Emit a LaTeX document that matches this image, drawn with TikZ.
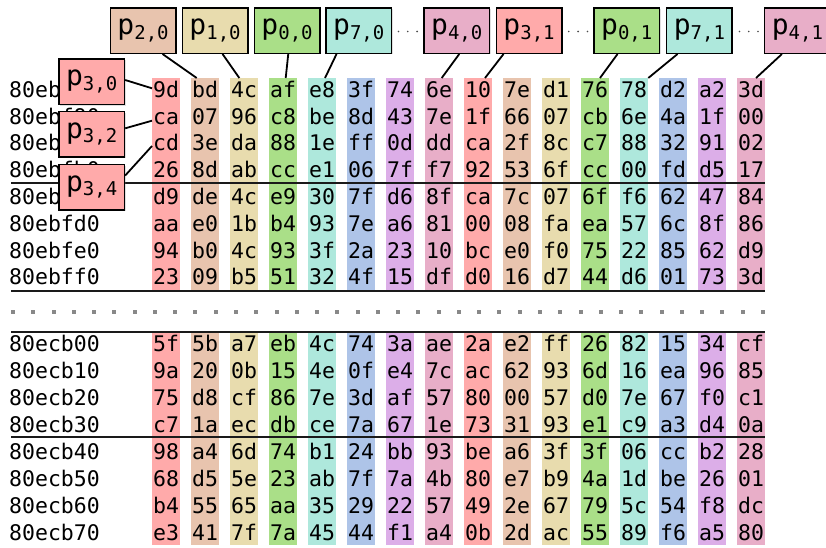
\documentclass[tikz,border=0pt]{standalone}
\usepackage{fontspec}
\setmonofont{DejaVu Sans Mono}
\usetikzlibrary{calc,shadows}
\definecolor{col0}{HTML}{FFAAAA}
\definecolor{col1}{HTML}{E8C4AE}
\definecolor{col2}{HTML}{E8DCAE}
\definecolor{col3}{HTML}{AADF88}
\definecolor{col4}{HTML}{AEE8DC}
\definecolor{col5}{HTML}{AEC4E8}
\definecolor{col6}{HTML}{DCAEE8}
\definecolor{col7}{HTML}{E8AEC8}
\definecolor{rulecol}{HTML}{1A1A1A}
\definecolor{dotcol}{HTML}{888888}
\newcommand{\plab}[2]{{\fontsize{28}{28}\selectfont p}\raisebox{-4.5pt}{\fontsize{19}{19}\selectfont #1,#2}}
\tikzset{
  hex/.style={font=\ttfamily\fontsize{21.5}{21.5}\selectfont, anchor=base, inner sep=0pt},
  addr/.style={font=\ttfamily\fontsize{21.5}{21.5}\selectfont, anchor=base west, inner sep=0pt},
  pbox/.style={draw=black, line width=1.5pt, minimum width=65.5pt, minimum height=45.5pt,
    inner sep=0pt, font=\ttfamily, fill=#1,
    drop shadow={shadow xshift=1.2pt, shadow yshift=-1.2pt, opacity=0.25}},
  conn/.style={draw=black, line width=1.8pt},
  hrule/.style={draw=rulecol, line width=2pt},
}
\begin{document}
\begin{tikzpicture}[x=1pt,y=-1pt]
\useasboundingbox (0,0) rectangle (826,547);
\fill[white] (0,0) rectangle (826,547);
% column backgrounds
\foreach \i in {0,...,15} {
  \pgfmathtruncatemacro\c{mod(\i,8)}
  \fill[col\c] ({152+39*\i},78) rectangle +(28,213);
  \fill[col\c] ({152+39*\i},332.7) rectangle +(28,212.3);
  \coordinate (ct\i) at ({152+39*\i},78);
}
\coordinate (cl0) at (152,88.3);
\coordinate (cl1) at (152,120.7);
\coordinate (cl2) at (152,146);
% addresses
\foreach \a [count=\r from 0] in {80ebf80,80ebf90,80ebfa0,80ebfb0,80ebfc0,80ebfd0,80ebfe0,80ebff0} {
  \node[addr] (at\r) at (9,{90+26.8*\r+7.2}) {\a};
}
\foreach \a [count=\r from 0] in {80ecb00,80ecb10,80ecb20,80ecb30,80ecb40,80ecb50,80ecb60,80ecb70} {
  \node[addr] (ab\r) at (9,{344+27*\r+7.2}) {\a};
}
% top block bytes
\foreach \row [count=\r from 0] in {
  {9d,bd,4c,af,e8,3f,74,6e,10,7e,d1,76,78,d2,a2,3d},
  {ca,07,96,c8,be,8d,43,7e,1f,66,07,cb,6e,4a,1f,00},
  {cd,3e,da,88,1e,ff,0d,dd,ca,2f,8c,c7,88,32,91,02},
  {26,8d,ab,cc,e1,06,7f,f7,92,53,6f,cc,00,fd,d5,17},
  {d9,de,4c,e9,30,7f,d6,8f,ca,7c,07,6f,f6,62,47,84},
  {aa,e0,1b,b4,93,7e,a6,81,00,08,fa,ea,57,6c,8f,86},
  {94,b0,4c,93,3f,2a,23,10,bc,e0,f0,75,22,85,62,d9},
  {23,09,b5,51,32,4f,15,df,d0,16,d7,44,d6,01,73,3d}} {
  \foreach \b [count=\i from 0] in \row {
    \node[hex] (t\r-\i) at ({166+39*\i},{90+26.8*\r+7.2}) {\b};
  }
}
% bottom block bytes
\foreach \row [count=\r from 0] in {
  {5f,5b,a7,eb,4c,74,3a,ae,2a,e2,ff,26,82,15,34,cf},
  {9a,20,0b,15,4e,0f,e4,7c,ac,62,93,6d,16,ea,96,85},
  {75,d8,cf,86,7e,3d,af,57,80,00,57,d0,7e,67,f0,c1},
  {c7,1a,ec,db,ce,7a,67,1e,73,31,93,e1,c9,a3,d4,0a},
  {98,a4,6d,74,b1,24,bb,93,be,a6,3f,3f,06,cc,b2,28},
  {68,d5,5e,23,ab,7f,7a,4b,80,e7,b9,4a,1d,be,26,01},
  {b4,55,65,aa,35,29,22,57,49,2e,67,79,5c,54,f8,dc},
  {e3,41,7f,7a,45,44,f1,a4,0b,2d,ac,55,89,f6,a5,80}} {
  \foreach \b [count=\i from 0] in \row {
    \node[hex] (b\r-\i) at ({166+39*\i},{344+27*\r+7.2}) {\b};
  }
}
% rules
\draw[hrule] (11,182.7) -- (765,182.7);
\draw[hrule] (11,291) -- (765,291);
\draw[hrule] (11,331.7) -- (765,331.7);
\draw[hrule] (11,437.3) -- (765,437.3);
% dotted separator
\foreach \k in {0,...,37} {
  \fill[dotcol] ({11+20.27*\k},309.7) rectangle +(4,4);
}
% label boxes (top)
\node[pbox=col1] (p20) at (143.05,30.5) {\plab{2}{0}};
\node[pbox=col2] (p10) at (215.05,30.5) {\plab{1}{0}};
\node[pbox=col3] (p00) at (287.05,30.5) {\plab{0}{0}};
\node[pbox=col4] (p70) at (358.75,30.5) {\plab{7}{0}};
\node[pbox=col7] (p40) at (456.75,30.5) {\plab{4}{0}};
\node[pbox=col0] (p31) at (529.05,30.5) {\plab{3}{1}};
\node[pbox=col3] (p01) at (626.75,30.5) {\plab{0}{1}};
\node[pbox=col4] (p71) at (699.45,30.5) {\plab{7}{1}};
\node[pbox=col7] (p41) at (797.45,30.5) {\plab{4}{1}};
% ellipses between boxes
\foreach \cx in {407.8,578.1,748.7} {
  \foreach \d in {-9.3,0,9.3} {
    \fill[black!70] ({\cx+\d},31.5) circle (0.9);
  }
}
% connectors (top)
\draw[conn] ($(p20.south west)+(53,0)$) -- ($(ct1)+(5.7,0)$);
\draw[conn] ($(p10.south west)+(41,0)$) -- ($(ct2)+(9.3,0)$);
\draw[conn] ($(p00.south west)+(34.7,0)$) -- ($(ct3)+(16.7,0)$);
\draw[conn] ($(p70.south west)+(11.3,0)$) -- ($(ct4)+(17,0)$);
\draw[conn] ($(p40.south west)+(36,0)$) -- ($(ct7)+(16.7,0)$);
\draw[conn] ($(p31.south west)+(8,0)$) -- ($(ct8)+(21,0)$);
\draw[conn] ($(p01.south west)+(24.3,0)$) -- ($(ct11)+(19,0)$);
\draw[conn] ($(p71.south west)+(11.6,0)$) -- ($(ct12)+(28.3,0)$);
\draw[conn] ($(p41.south west)+(18,0)$) -- ($(ct15)+(19,0)$);
% label boxes (left)
\node[pbox=col0] (p30) at (91.7,81.7) {\plab{3}{0}};
\node[pbox=col0] (p32) at (91.7,134.2) {\plab{3}{2}};
\node[pbox=col0] (p34) at (91.7,187.2) {\plab{3}{4}};
\draw[conn] ($(p30.east)+(0,-1.7)$) -- (cl0);
\draw[conn] ($(p32.east)+(0,-5.9)$) -- (cl1);
\draw[conn] ($(p34.east)+(0,-11.7)$) -- (cl2);
\end{tikzpicture}
\end{document}
